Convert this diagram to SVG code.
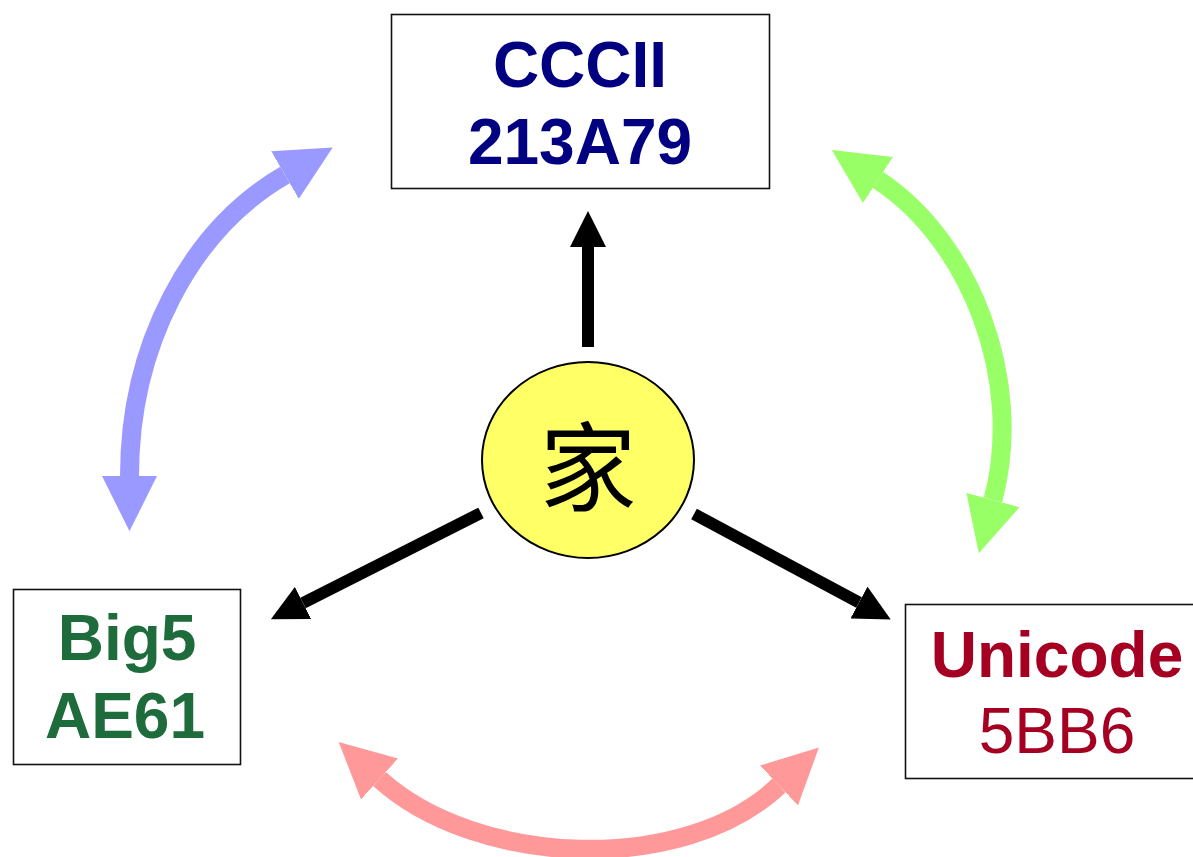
<svg xmlns="http://www.w3.org/2000/svg" width="1193" height="857" viewBox="0 0 1193 857">
<defs>
<style>
.box{fill:#fff;stroke:#111;stroke-width:1.6}
.t{font-family:"Liberation Sans",Arial,sans-serif;font-size:64px;text-anchor:middle}
.b{font-weight:bold}
.blk{fill:none;stroke:#000;stroke-width:12;marker-end:url(#hb)}
.arc{fill:none;stroke-width:19}
</style>
<marker id="hb" viewBox="0 0 10 10" refX="0" refY="5" markerWidth="3" markerHeight="3" orient="auto" markerUnits="strokeWidth"><path d="M0,0 L10,5 L0,10 z" fill="#000"/></marker>
<marker id="hblue" viewBox="0 0 10 10" refX="0" refY="5" markerWidth="2.9" markerHeight="2.9" orient="auto-start-reverse" markerUnits="strokeWidth"><path d="M0,0 L10,5 L0,10 z" fill="#9999FF"/></marker>
<marker id="hgreen" viewBox="0 0 10 10" refX="0" refY="5" markerWidth="2.9" markerHeight="2.9" orient="auto-start-reverse" markerUnits="strokeWidth"><path d="M0,0 L10,5 L0,10 z" fill="#99FF66"/></marker>
<marker id="hred" viewBox="0 0 10 10" refX="0" refY="5" markerWidth="2.9" markerHeight="2.9" orient="auto-start-reverse" markerUnits="strokeWidth"><path d="M0,0 L10,5 L0,10 z" fill="#FF9999"/></marker>
</defs>
<rect width="1193" height="857" fill="#fff"/>
<g id="connectors">
<path class="arc" stroke="#9999FF" marker-start="url(#hblue)" marker-end="url(#hblue)" d="M129.5,476 C129.5,346 190,230 285,175"/>
<path class="arc" stroke="#99FF66" marker-start="url(#hgreen)" marker-end="url(#hgreen)" d="M878,180 C970,240 1025,380 993,500"/>
<path class="arc" stroke="#FF9999" marker-start="url(#hred)" marker-end="url(#hred)" d="M379.5,779 C476.5,867 684,876 779,785.5"/>
<line class="blk" x1="588" y1="347" x2="588" y2="247"/>
<line class="blk" x1="481" y1="513" x2="303" y2="603"/>
<line class="blk" x1="694" y1="514" x2="859" y2="602.5"/>
</g>
<g id="cccii">
<rect class="box" x="391.5" y="14.5" width="378" height="174"/>
<text class="t b" x="580" y="87" fill="#000080">CCCII</text>
<text class="t b" x="580" y="164" fill="#000080">213A79</text>
</g>
<g id="big5">
<rect class="box" x="13.5" y="589.5" width="227" height="175"/>
<text class="t b" x="127" y="660" fill="#1E6B3C">Big5</text>
<text class="t b" x="125" y="738" fill="#1E6B3C">AE61</text>
</g>
<g id="unicode">
<rect class="box" x="905.5" y="604.5" width="304" height="174"/>
<text class="t b" x="1057" y="677" fill="#A50021">Unicode</text>
<text class="t" x="1057" y="753" fill="#A50021">5BB6</text>
</g>
<g id="jia">
<ellipse cx="588" cy="460" rx="106" ry="98" fill="#FFFF66" stroke="#000" stroke-width="2"/>
<text x="588" y="503" font-family="'Noto Sans CJK TC','Noto Sans CJK SC',sans-serif" font-size="97" text-anchor="middle" fill="#000">家</text>
</g>
</svg>
